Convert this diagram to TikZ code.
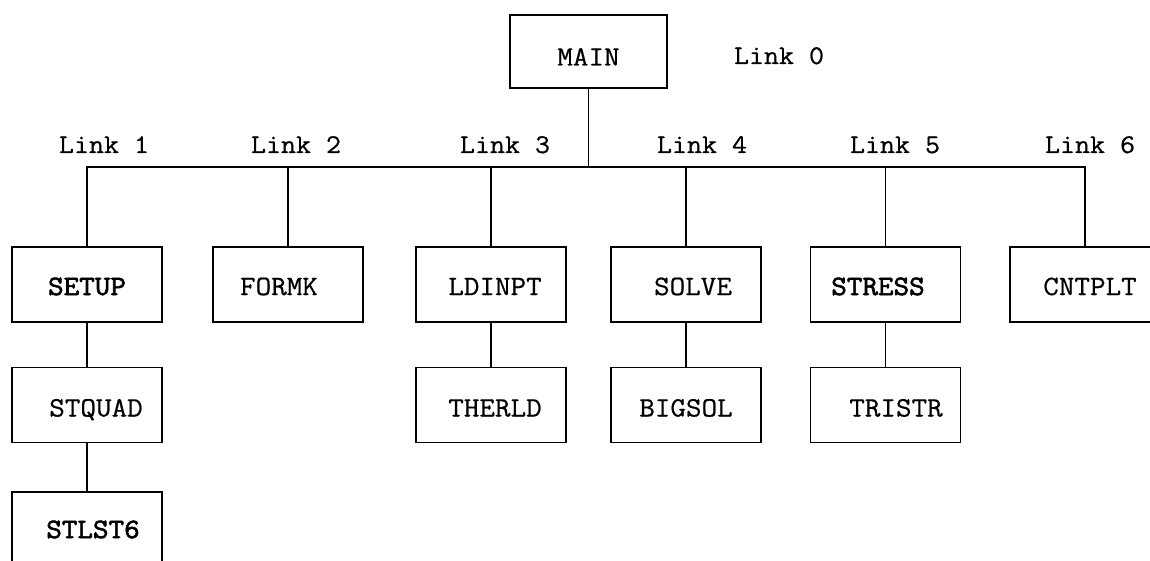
\documentclass[tikz,border=0pt]{standalone}
\usepackage{fontspec}
\setmonofont{Latin Modern Mono}[FakeStretch=1.08,
  UprightFeatures={FakeBold=0.6},
  BoldFont={Latin Modern Mono},
  BoldFeatures={FakeBold=2.2,FakeStretch=1.08}]
\begin{document}
\begin{tikzpicture}[x=1pt,y=-1pt,
  box/.style={draw,line width=1.3pt,minimum width=150pt,minimum height=75pt,inner sep=0pt,
              text height=17pt,text depth=0pt,font=\ttfamily\fontsize{28}{32}\selectfont},
  heavy/.style={font=\ttfamily\bfseries\fontsize{28}{32}\selectfont},
  row1/.style={text height=21pt},
  row2/.style={text height=23pt},
  lnk/.style={anchor=base,inner sep=0pt,font=\ttfamily\fontsize{27}{32}\selectfont},
  conn/.style={line width=1.2pt}]
\clip (0,0) rectangle (1150,561);
\fill[white] (0,0) rectangle (1150,561);
% top
\node[box,minimum width=157pt,minimum height=73pt,text height=28pt] (main) at (588.5,51.5) {MAIN};
\node[lnk] (l0) at (779,64) {Link 0};
% row 1
\node[box,row1,heavy] (setup)  at (87,284.5)  {SETUP};
\node[box,row1] (formk)  at (288,284.5) {FORMK\hspace*{18pt}};
\node[box,row1] (ldinpt) at (491,284.5) {\hspace*{8pt}LDINPT};
\node[box,row1] (solve)  at (686,284.5) {\hspace*{14pt}SOLVE};
\node[box,row1,heavy] (stress) at (885.5,284.5) {STRESS\hspace*{15pt}};
\node[box,row1] (cntplt) at (1085,284.5) {\hspace*{10pt}CNTPLT};
% row 2
\node[box,row2] (stquad) at (87,405)  {\hspace*{18pt}STQUAD};
\node[box,row2] (therld) at (491,405) {\hspace*{8pt}THERLD};
\node[box,row2] (bigsol) at (686,405) {BIGSOL};
\node[box,row2] (tristr) at (885.5,405) {\hspace*{21pt}TRISTR};
% row 3
\node[box,heavy] (stlst6) at (87,529.5) {\hspace*{12pt}STLST6};
% link labels
\node[lnk] (l1) at (104,153)  {Link 1};
\node[lnk] (l2) at (296,153)  {Link 2};
\node[lnk] (l3) at (505,153)  {Link 3};
\node[lnk] (l4) at (702,153)  {Link 4};
\node[lnk] (l5) at (895,153)  {Link 5};
\node[lnk] (l6) at (1090,153) {Link 6};
% connectors
\coordinate (bus) at (0,167);
\draw[conn] (main.south) -- (main.south |- bus);
\draw[conn] (setup.north) -- (setup.north |- bus) -- (cntplt.north |- bus) -- (cntplt.north);
\draw[conn] (formk.north) -- (formk.north |- bus);
\draw[conn] (ldinpt.north) -- (ldinpt.north |- bus);
\draw[conn] (solve.north) -- (solve.north |- bus);
\draw[conn] (stress.north) -- (stress.north |- bus);
\draw[conn] (setup) -- (stquad);
\draw[conn] (stquad) -- (stlst6);
\draw[conn] (ldinpt) -- (therld);
\draw[conn] (solve) -- (bigsol);
\draw[conn] (stress) -- (tristr);
\end{tikzpicture}
\end{document}
